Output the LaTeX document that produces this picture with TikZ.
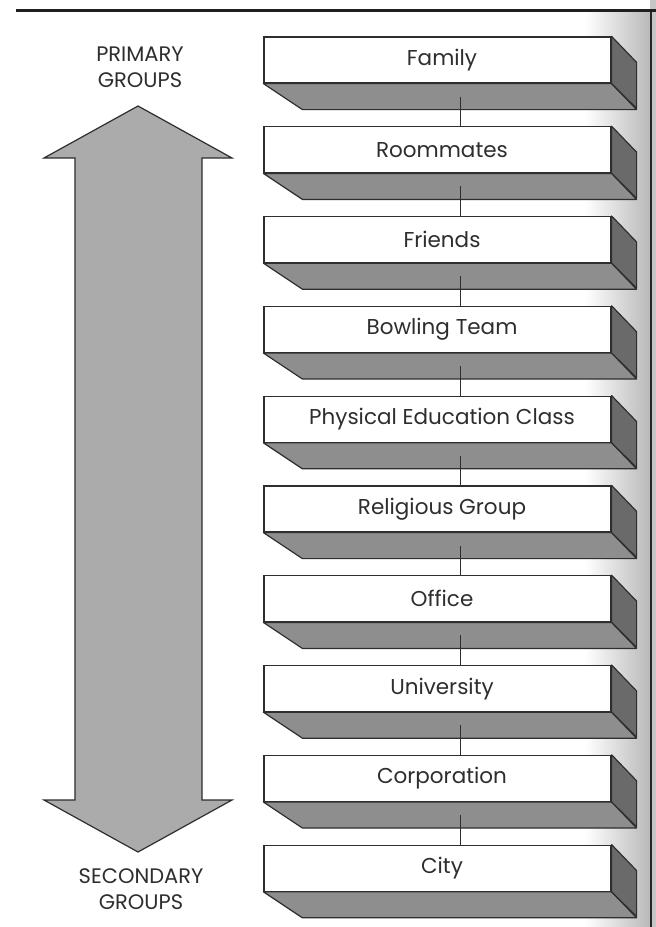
\documentclass[tikz,border=0pt]{standalone}
\usepackage{fontspec}
\setmainfont{Poppins}
\usetikzlibrary{calc}
\definecolor{slabgray}{HTML}{8E8E8E}
\definecolor{sidegray}{HTML}{6A6A6A}
\definecolor{arrowgray}{HTML}{ABABAB}
\definecolor{inkgray}{HTML}{2E2E2E}
\tikzset{
 frontbox/.style={draw=inkgray, line width=1.2pt, fill=white, minimum width=347pt, minimum height=46pt, inner sep=0pt, font=\fontsize{21.5}{24}\selectfont, text=inkgray},
 slabface/.style={draw=inkgray, line width=1.2pt, fill=slabgray, line join=round},
 sideface/.style={draw=inkgray, line width=1.2pt, fill=sidegray, line join=round},
 link/.style={draw=inkgray, line width=1.4pt},
 grouplabel/.style={align=center, font=\fontsize{21}{26}\selectfont, text=inkgray, inner sep=0pt},
 bigarrow/.style={fill=arrowgray, draw=inkgray, line width=1.2pt, line join=miter},
}
\begin{document}
\begin{tikzpicture}[x=1pt,y=-1pt]
\useasboundingbox (0,0) rectangle (656,927);
\fill[white] (0,0) rectangle (656,927);
% page gutter at the right
\shade[left color=white, right color=gray!55] (585,12) rectangle (650,927);
\fill[gray!45] (650,0) rectangle (656,927);
\draw[gray!30!black, line width=2pt] (651,12) -- (651,927);
% top rule
\draw[gray!25!black, line width=3pt] (16,10) -- (656,10);
% boxes
\foreach \t [count=\i from 0] in {Family, Roommates, Friends, Bowling Team, Physical Education Class, Religious Group, Office, University, Corporation, City} {
  \node[frontbox] (b\i) at (437.5,{60+89.8*\i}) {\hspace*{9pt}\t};
  \draw[slabface] (b\i.south west) -- (b\i.south east) -- ++(25,26) -- ($(b\i.south west)+(39,26)$) -- cycle;
  \draw[sideface] (b\i.north east) -- ++(25,26) -- ++(0,46) -- (b\i.south east) -- cycle;
}
% connectors
\foreach \i [evaluate=\i as \j using int(\i+1)] in {0,...,8} {
  \coordinate (c\i) at ($(b\i.south)+(23,13)$);
  \draw[link] (c\i) -- (c\i |- b\j.north);
}
% double arrow
\draw[bigarrow] (138,106) -- (232,158) -- (202,158) -- (202,800) -- (232,800) -- (138,852) -- (44,800) -- (75,800) -- (75,158) -- (44,158) -- cycle;
\node[grouplabel] (prim) at (140,67) {PRIMARY\\GROUPS};
\node[grouplabel] (sec) at (141,889) {SECONDARY\\GROUPS};
\end{tikzpicture}
\end{document}
